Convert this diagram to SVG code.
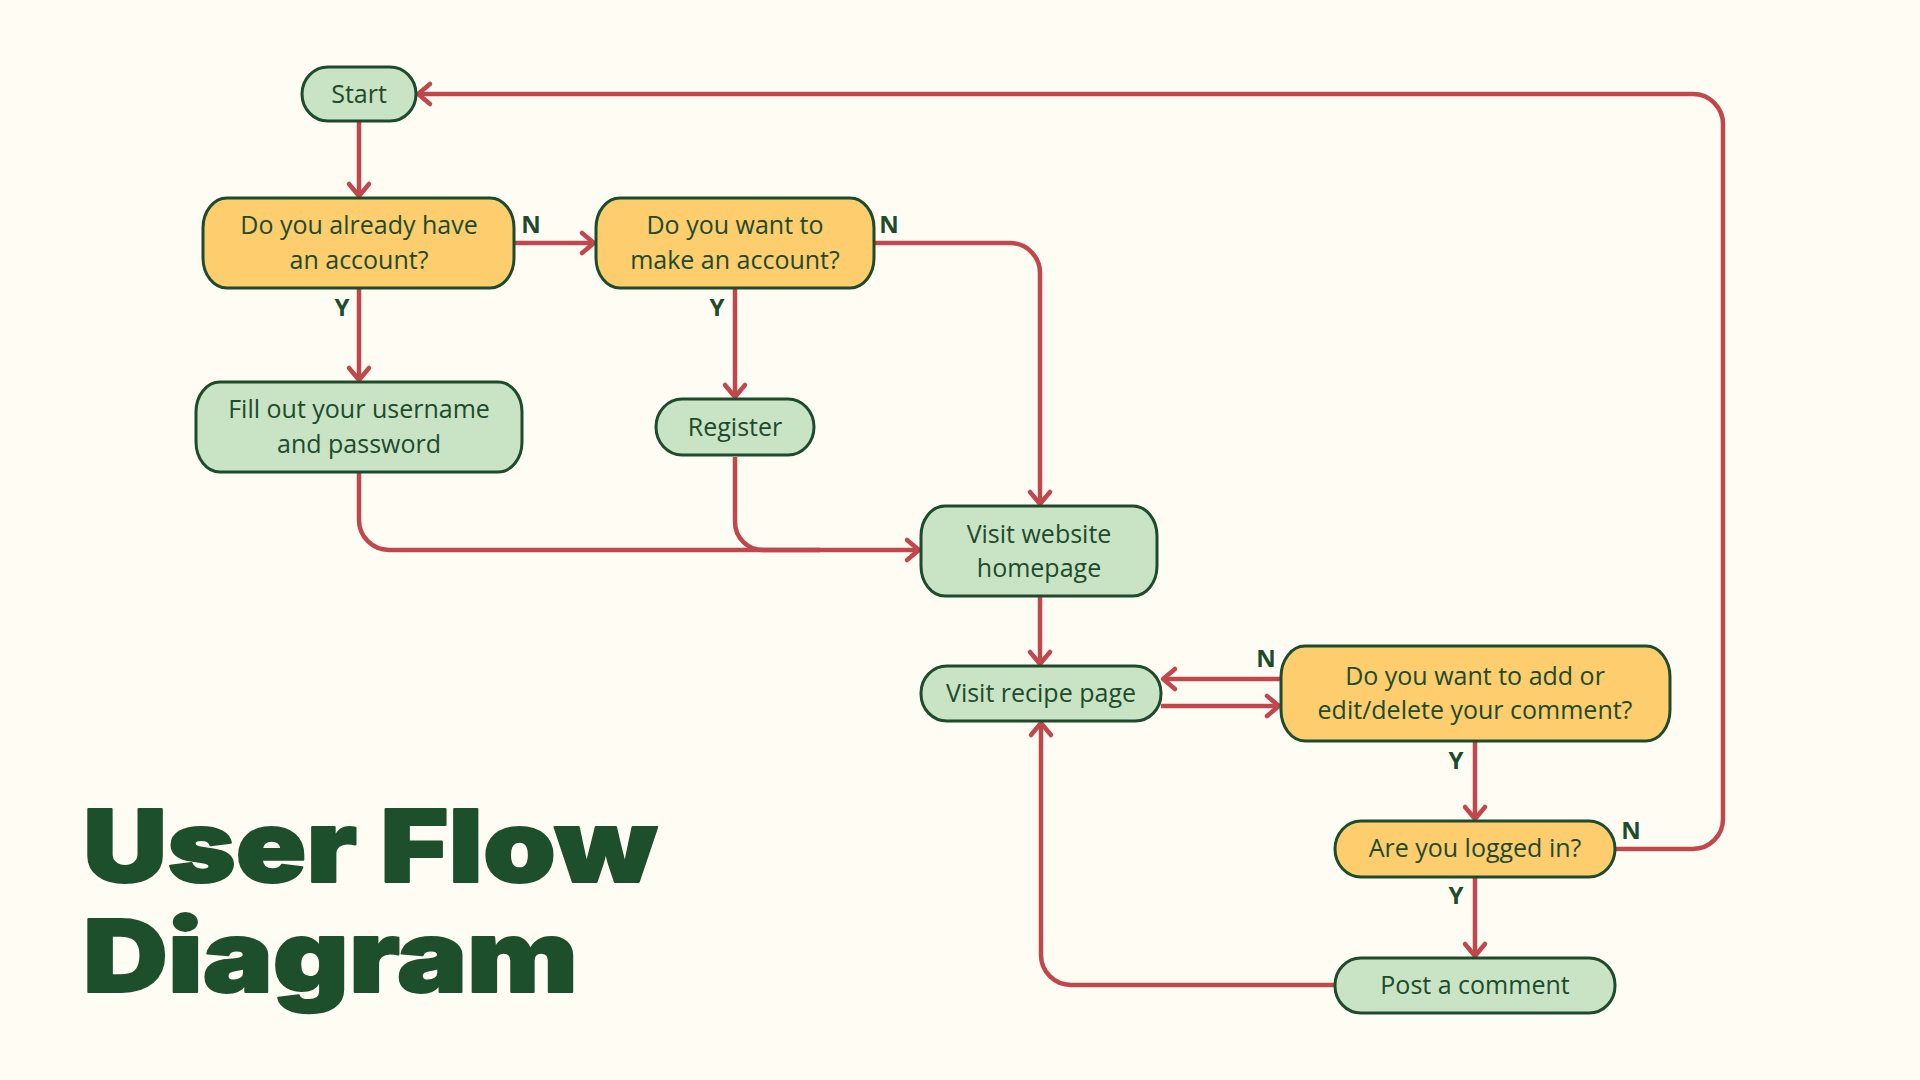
<svg xmlns="http://www.w3.org/2000/svg" width="1920" height="1080" viewBox="0 0 1920 1080">
  <style>
    .node { stroke: #1d4b2b; stroke-width: 3; }
    .green { fill: #c9e3c5; }
    .yellow { fill: #fecd6e; }
    .t { font-family: "Open Sans", "Noto Sans", sans-serif; font-size: 25px; fill: #1d4b2b; text-anchor: middle; }
    .lbl { font-family: "Open Sans", "Noto Sans", sans-serif; font-size: 24px; font-weight: 700; fill: #1d4b2b; text-anchor: middle; }
    .c { fill: none; stroke: #c0474b; stroke-width: 4.5; }
    .title { font-family: Inter, Lato, Roboto, sans-serif; font-weight: 900; font-size: 100px; fill: #1e4f2d; stroke: #1e4f2d; stroke-width: 2; stroke-linejoin: round; }
  </style>
  <defs>
    <marker id="arr" markerUnits="userSpaceOnUse" markerWidth="30" markerHeight="30" refX="0" refY="0" viewBox="-16 -15 20 30" orient="auto" overflow="visible">
      <path d="M-12,-10 L0,0 L-12,10" fill="none" stroke="#c0474b" stroke-width="4.5" stroke-linecap="round" stroke-linejoin="round"/>
    </marker>
  </defs>
  <rect width="1920" height="1080" fill="#fffcf4"/>

  <g id="connectors">
    <path class="c" d="M359,121 V196" marker-end="url(#arr)"/>
    <path class="c" d="M514,243 H594" marker-end="url(#arr)"/>
    <path class="c" d="M359,288 V380" marker-end="url(#arr)"/>
    <path class="c" d="M735,288 V397" marker-end="url(#arr)"/>
    <path class="c" d="M874,243 H1010 A30,30 0 0 1 1040,273 V504" marker-end="url(#arr)"/>
    <path class="c" d="M359,472 V520 A30,30 0 0 0 389,550 H919" marker-end="url(#arr)"/>
    <path class="c" d="M735,457 V522 A28,28 0 0 0 763,550 H820"/>
    <path class="c" d="M1040,596 V664" marker-end="url(#arr)"/>
    <path class="c" d="M1281,679 H1163" marker-end="url(#arr)"/>
    <path class="c" d="M1161,706 H1279" marker-end="url(#arr)"/>
    <path class="c" d="M1475,741 V819" marker-end="url(#arr)"/>
    <path class="c" d="M1475,877 V956" marker-end="url(#arr)"/>
    <path class="c" d="M1615,849 H1693 A30,30 0 0 0 1723,819 V124 A30,30 0 0 0 1693,94 H418" marker-end="url(#arr)"/>
    <path class="c" d="M1335,985 H1071 A30,30 0 0 1 1041,955 V723" marker-end="url(#arr)"/>
  </g>

  <g id="labels">
    <text class="lbl" x="531" y="233">N</text>
    <text class="lbl" x="342" y="316">Y</text>
    <text class="lbl" x="889" y="233">N</text>
    <text class="lbl" x="717" y="316">Y</text>
    <text class="lbl" x="1266" y="667">N</text>
    <text class="lbl" x="1456" y="769">Y</text>
    <text class="lbl" x="1631" y="839">N</text>
    <text class="lbl" x="1456" y="904">Y</text>
  </g>

  <g id="start">
    <rect class="node green" x="302" y="67" width="114" height="54" rx="26" ry="27"/>
    <text class="t" x="359" y="103">Start</text>
  </g>
  <g id="have-account">
    <rect class="node yellow" x="203" y="198" width="311" height="90" rx="24" ry="30"/>
    <text class="t" x="359" y="234">Do you already have</text>
    <text class="t" x="359" y="269">an account?</text>
  </g>
  <g id="make-account">
    <rect class="node yellow" x="596" y="198" width="278" height="90" rx="24" ry="30"/>
    <text class="t" x="735" y="234">Do you want to</text>
    <text class="t" x="735" y="269">make an account?</text>
  </g>
  <g id="fill-out">
    <rect class="node green" x="196" y="382" width="326" height="90" rx="24" ry="30"/>
    <text class="t" x="359" y="418">Fill out your username</text>
    <text class="t" x="359" y="453">and password</text>
  </g>
  <g id="register">
    <rect class="node green" x="656" y="399" width="158" height="56" rx="26" ry="28"/>
    <text class="t" x="735" y="436">Register</text>
  </g>
  <g id="homepage">
    <rect class="node green" x="921" y="506" width="236" height="90" rx="24" ry="30"/>
    <text class="t" x="1039" y="543">Visit website</text>
    <text class="t" x="1039" y="577">homepage</text>
  </g>
  <g id="recipe">
    <rect class="node green" x="921" y="666" width="240" height="55" rx="26" ry="27"/>
    <text class="t" x="1041" y="702">Visit recipe page</text>
  </g>
  <g id="comment-question">
    <rect class="node yellow" x="1281" y="646" width="389" height="95" rx="24" ry="31"/>
    <text class="t" x="1475" y="685">Do you want to add or</text>
    <text class="t" x="1475" y="719">edit/delete your comment?</text>
  </g>
  <g id="logged-in">
    <rect class="node yellow" x="1335" y="821" width="280" height="56" rx="26" ry="28"/>
    <text class="t" x="1475" y="857">Are you logged in?</text>
  </g>
  <g id="post">
    <rect class="node green" x="1335" y="958" width="280" height="55" rx="26" ry="27"/>
    <text class="t" x="1475" y="994">Post a comment</text>
  </g>

  <g id="title">
    <text class="title" x="83" y="882" textLength="574" lengthAdjust="spacingAndGlyphs">User Flow</text>
    <text class="title" x="83" y="992" textLength="495" lengthAdjust="spacingAndGlyphs">Diagram</text>
  </g>
</svg>
